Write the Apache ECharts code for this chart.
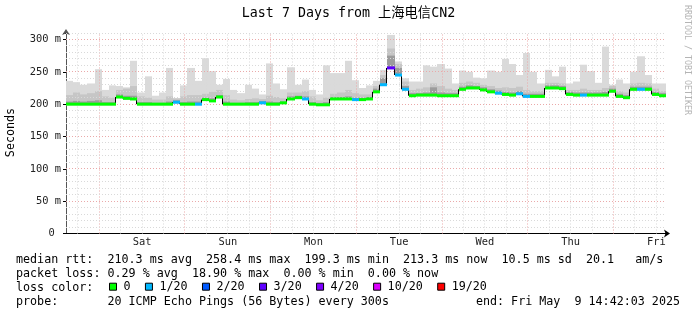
<!DOCTYPE html>
<html><head><meta charset="utf-8">
<script src="https://cdn.jsdelivr.net/npm/echarts@6/dist/echarts.min.js"></script>
<style>html,body{margin:0;padding:0;background:#fff}#c{width:697px;height:315px}</style>
</head><body><div id="c"></div>
<script>
// ---- data ----
const binHours = 2;                       // each value covers 2 hours; graph spans 168 h
const dayLabels = ['Sat','Sun','Mon','Tue','Wed','Thu','Fri'];
const firstMidnightHour = 9.3;            // graph starts Fri 14:42, Sat 00:00 is 9.3 h later
const yTickValues = [0,50,100,150,200,250,300];
const lossNames  = ['0','1/20','2/20','3/20','4/20','10/20','19/20'];
const lossColors = ['#00ff00','#00b8ff','#0059ff','#5e00ff','#7e00ff','#dd00ff','#ff0000'];

const medianRtt = [
 200,200,200,200,200,200,200,211,209,208,200,200,
 200,200,200,203,200,200,200,207,205,211,200,200,
 200,200,200,202,200,200,202,208,210,208,200,199,
 199,208,208,208,207,207,208,219,230,256,245,223,
 213,214,214,214,213,213,213,223,225,225,222,219,
 217,215,214,216,212,212,212,225,225,224,215,214,
 214,214,214,214,220,212,210,223,223,223,215,213];
const lossIdx = [
 0,0,0,0,0,0,0,0,0,0,0,0,
 0,0,0,1,0,0,1,0,0,0,0,0,
 0,0,0,1,0,0,0,0,0,1,0,0,
 0,0,0,0,1,0,0,0,1,3,1,1,
 0,0,0,0,0,0,0,0,0,0,0,0,
 1,0,0,1,1,0,0,0,0,0,0,0,
 1,0,0,0,0,0,0,0,1,0,0,0];
const smokeMax = [
 236,234,230,232,254,222,229,228,226,267,218,243,
 213,218,256,209,229,256,236,271,251,230,239,222,
 217,230,224,215,263,232,223,257,230,238,222,215,
 260,248,248,267,237,225,229,236,253,307,266,240,
 235,235,260,258,262,255,232,252,250,241,240,252,
 250,270,262,245,279,250,232,253,243,258,232,235,
 261,251,233,289,230,238,232,250,274,245,232,232];
const smokeMid = [
 214,218,215,217,220,212,210,222,224,228,212,210,
 207,207,212,209,212,214,214,216,219,222,214,207,
 206,208,209,208,213,211,209,218,218,220,212,206,
 210,216,218,222,217,215,215,228,245,286,262,235,
 222,224,226,232,228,224,222,233,235,233,230,228,
 225,226,225,227,222,220,220,233,233,232,222,222,
 224,222,222,225,228,220,218,232,233,232,224,220];
const smokeCore = [
 204,205,204,205,206,203,203,215,213,213,203,203,
 202,202,204,206,203,204,204,210,209,214,204,202,
 202,203,203,205,204,203,204,212,213,212,203,202,
 203,211,211,212,210,210,211,224,240,275,256,228,
 217,217,218,226,218,217,217,227,229,228,226,223,
 221,219,218,220,216,216,216,229,229,228,219,218,
 218,218,218,219,224,216,214,227,227,227,219,217];

// ---- build ----
const FONT = "'DejaVu Sans Mono', monospace";
const X_MAX = medianRtt.length * binHours;
const Y_MAX = 310;

const smokeData = medianRtt.map((m, i) => [i * binHours, m, smokeMax[i], smokeMid[i], smokeCore[i]]);
const medianData = medianRtt.map((m, i) => [i * binHours, m, i + 1 < medianRtt.length ? medianRtt[i + 1] : m, lossIdx[i]]);

const vGrid = [];
for (let h = firstMidnightHour - 6; h < X_MAX; h += 6) {
  const major = Math.abs(((h - firstMidnightHour) / 24) - Math.round((h - firstMidnightHour) / 24)) < 1e-6;
  vGrid.push([h, 0, major ? 1 : 0]);
}
const hGrid = [];
for (let v = 10; v <= Y_MAX; v += 10) hGrid.push([0, v, v % 50 === 0 ? 1 : 0]);
const dayLabelHours = dayLabels.map((_, k) => firstMidnightHour + 12 + 24 * k);

const MINOR_C = '#d9d9d9', MAJOR_C = '#eaa9a9';

function renderSmoke(params, api) {
  const x0 = api.value(0), med = api.value(1);
  const xa = Math.round(api.coord([x0, 0])[0]);
  const xb = Math.round(api.coord([x0 + binHours, 0])[0]);
  const mk = (hi, color) => {
    const yTop = api.coord([x0, hi])[1], yBot = api.coord([x0, med])[1] + 1;
    return {type: 'rect', shape: {x: xa, y: yTop, width: xb - xa, height: yBot - yTop}, style: {fill: color}};
  };
  return {type: 'group', children: [mk(api.value(2), '#dadada'), mk(api.value(3), '#c6c6c6'), mk(api.value(4), '#9c9c9c')]};
}
function renderMedian(params, api) {
  const x0 = api.value(0), m = api.value(1), nm = api.value(2), li = api.value(3);
  const a = api.coord([x0, m]), b = api.coord([x0 + binHours, m]), c = api.coord([x0 + binHours, nm]);
  const xa = Math.round(a[0]), xb = Math.round(b[0]);
  return {type: 'group', children: [
    {type: 'line', shape: {x1: xb - 0.5, y1: a[1], x2: xb - 0.5, y2: c[1]}, style: {stroke: '#000', lineWidth: 1}},
    {type: 'rect', shape: {x: xa, y: a[1] - 1.5, width: xb - xa, height: 3}, style: {fill: lossColors[li]}}
  ]};
}
function renderVGrid(params, api) {
  const p = api.coord([api.value(0), 0]), t = api.coord([api.value(0), Y_MAX]);
  const x = Math.floor(p[0]) + 0.5;
  return {type: 'line', shape: {x1: x, y1: p[1], x2: x, y2: t[1]},
    style: {stroke: api.value(2) ? MAJOR_C : MINOR_C, lineWidth: 1, lineDash: [1, 2]}};
}
function renderHGrid(params, api) {
  const p = api.coord([0, api.value(1)]), q = api.coord([X_MAX, api.value(1)]);
  const y = Math.floor(p[1]) + 0.5;
  return {type: 'line', shape: {x1: p[0], y1: y, x2: q[0], y2: y},
    style: {stroke: api.value(2) ? MAJOR_C : MINOR_C, lineWidth: 1, lineDash: [1, 2]}};
}

const chart = echarts.init(document.getElementById('c'), null, {renderer: 'canvas'});
const series = [
  {type: 'custom', name: 'smoke', renderItem: renderSmoke, data: smokeData, z: 2, silent: true, clip: false},
  {type: 'custom', name: 'vgrid', renderItem: renderVGrid, data: vGrid, z: 3, silent: true, clip: false},
  {type: 'custom', name: 'hgrid', renderItem: renderHGrid, data: hGrid, z: 3, silent: true, clip: false},
  {type: 'custom', name: 'median', renderItem: renderMedian, data: medianData, z: 4, silent: true, clip: false}
];
lossNames.forEach((n, i) => series.push({type: 'bar', name: n, data: [], itemStyle: {color: lossColors[i]}}));

chart.setOption({
  animation: false,
  backgroundColor: '#ffffff',
  title: {text: 'Last 7 Days from 上海电信CN2', left: 'center', top: 7, padding: 0,
    textStyle: {fontFamily: "'DejaVu Sans Mono','Noto Sans CJK SC',monospace", fontSize: 13.3, fontWeight: 'normal', color: '#000'}},
  grid: {left: 66, right: 31, top: 33, bottom: 81.5, containLabel: false},
  xAxis: {type: 'value', min: 0, max: X_MAX,
    axisLine: {show: true, onZero: true, lineStyle: {color: '#000', width: 1}, symbol: ['none', 'arrow'], symbolSize: [6, 6], symbolOffset: [0, 4]},
    axisTick: {show: false},
    splitLine: {show: false},
    axisLabel: {customValues: dayLabelHours, margin: 4, color: '#222', fontFamily: FONT, fontSize: 10.4,
      formatter: v => dayLabels[Math.round((v - firstMidnightHour - 12) / 24)] || ''}},
  yAxis: {type: 'value', min: 0, max: Y_MAX, interval: 50,
    axisLine: {show: true, lineStyle: {color: '#555', width: 1}, symbol: ['none', 'arrow'], symbolSize: [6, 6], symbolOffset: [0, 4]},
    axisTick: {show: true, length: 3, lineStyle: {color: '#000'}},
    splitLine: {show: false},
    axisLabel: {margin: 5, color: '#222', fontFamily: FONT, fontSize: 10.4,
      formatter: v => (yTickValues.indexOf(v) < 0 ? '' : (v === 0 ? '0 ' : v + ' m'))}},
  legend: {data: lossNames, left: 109, top: 280.7, padding: 0, icon: 'rect', itemWidth: 7, itemHeight: 7, itemGap: 14.4,
    selectedMode: false, itemStyle: {borderColor: '#000', borderWidth: 1},
    textStyle: {fontFamily: FONT, fontSize: 11.7, color: '#000', padding: [0, 0, 0, 2]}},
  graphic: [
    {type: 'text', x: 10.5, y: 132.5, rotation: Math.PI / 2, silent: true,
      style: {text: 'Seconds', fontFamily: FONT, fontSize: 11.7, fill: '#000', align: 'center', verticalAlign: 'middle'}},
    {type: 'text', x: 687.5, y: 5, rotation: -Math.PI / 2, silent: true,
      style: {text: 'RRDTOOL / TOBI OETIKER', fontFamily: FONT, fontSize: 8.3, fill: '#b4b4b4', align: 'left', verticalAlign: 'middle'}},
    {type: 'text', x: 16, y: 260, silent: true,
      style: {text: 'median rtt:  210.3 ms avg  258.4 ms max  199.3 ms min  213.3 ms now  10.5 ms sd  20.1   am/s', fontFamily: FONT, fontSize: 11.7, fill: '#000', verticalAlign: 'middle'}},
    {type: 'text', x: 16, y: 273.6, silent: true,
      style: {text: 'packet loss: 0.29 % avg  18.90 % max  0.00 % min  0.00 % now', fontFamily: FONT, fontSize: 11.7, fill: '#000', verticalAlign: 'middle'}},
    {type: 'text', x: 16, y: 287.7, silent: true,
      style: {text: 'loss color:', fontFamily: FONT, fontSize: 11.7, fill: '#000', verticalAlign: 'middle'}},
    {type: 'text', x: 16, y: 301.7, silent: true,
      style: {text: 'probe:       20 ICMP Echo Pings (56 Bytes) every 300s', fontFamily: FONT, fontSize: 11.7, fill: '#000', verticalAlign: 'middle'}},
    {type: 'text', x: 680, y: 301.7, silent: true,
      style: {text: 'end: Fri May  9 14:42:03 2025', fontFamily: FONT, fontSize: 11.7, fill: '#000', align: 'right', verticalAlign: 'middle'}}
  ],
  series: series
});
</script>
</body></html>
